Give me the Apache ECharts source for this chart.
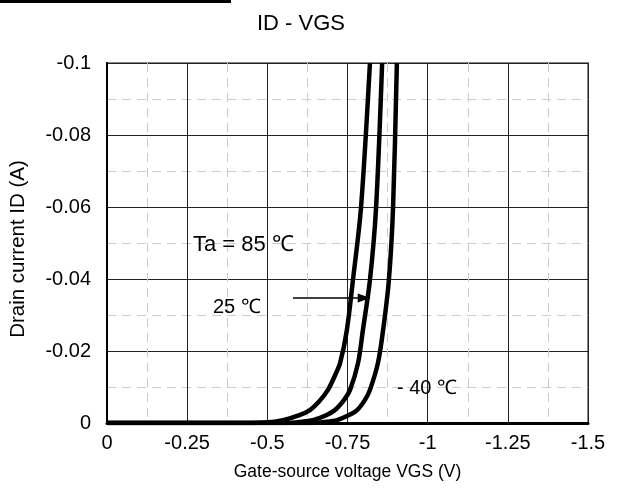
<!DOCTYPE html>
<html>
<head>
<meta charset="utf-8">
<script src="https://cdn.jsdelivr.net/npm/echarts@6/dist/echarts.min.js"></script>
<style>
html, body { margin: 0; padding: 0; background: #fff; }
#chart { width: 617px; height: 503px; }
</style>
</head>
<body>
<div id="chart"></div>
<script>
// curves: [VGS (V), ID (A)]
var curve85 = [[0, 0], [-0.45, 0], [-0.5, -0.0002], [-0.549, -0.0008], [-0.6, -0.0022], [-0.633, -0.0036],
	[-0.66, -0.0058], [-0.689, -0.0092], [-0.71, -0.013], [-0.727, -0.0167], [-0.748, -0.0258],
	[-0.767, -0.0397], [-0.792, -0.0597], [-0.82, -0.1]];
var curve25 = [[0, 0], [-0.56, 0], [-0.6, -0.0003], [-0.642, -0.0008], [-0.68, -0.002], [-0.711, -0.0036],
	[-0.74, -0.0065], [-0.758, -0.0092], [-0.783, -0.0167], [-0.798, -0.0258], [-0.82, -0.0397],
	[-0.839, -0.0597], [-0.858, -0.1]];
var curveM40 = [[0, 0], [-0.64, 0], [-0.68, -0.0003], [-0.717, -0.0008], [-0.75, -0.002], [-0.78, -0.0036],
	[-0.805, -0.0065], [-0.82, -0.0092], [-0.845, -0.0167], [-0.861, -0.0258], [-0.879, -0.0397],
	[-0.892, -0.0597], [-0.904, -0.1]];
var xTicks = [0, -0.25, -0.5, -0.75, -1, -1.25, -1.5];
var yTicks = [0, -0.02, -0.04, -0.06, -0.08, -0.1];
var arrowFrom = [-0.58, -0.0347];
var arrowTo = [-0.802, -0.0347];

var FONT = '"Liberation Sans", Arial, sans-serif';

var chart = echarts.init(document.getElementById('chart'));

function curveSeries(name, data){
	return {
		name: name,
		type: 'line',
		data: data,
		smooth: 0.3,
		showSymbol: false,
		lineStyle: { color: '#000', width: 4.5 },
		z: 5
	};
}

var series = [
	curveSeries('85', curve85),
	curveSeries('25', curve25),
	curveSeries('-40', curveM40)
];
series[1].markLine = {
	silent: true,
	symbol: ['none', 'triangle'],
	symbolSize: [9, 13],
	label: { show: false },
	lineStyle: { color: '#000', width: 1.5, type: 'solid' },
	data: [[{ coord: arrowFrom }, { coord: arrowTo }]]
};

var option = {
	animation: false,
	title: {
		text: 'ID - VGS',
		left: 296,
		top: 8,
		textAlign: 'center',
		textStyle: { fontFamily: FONT, fontSize: 22, fontWeight: 'normal', color: '#000' }
	},
	grid: {
		left: 107, top: 63, right: 29, bottom: 80,
		show: true, borderColor: '#888', borderWidth: 2
	},
	xAxis: {
		type: 'value',
		min: -1.5, max: 0, interval: 0.25,
		inverse: true,
		name: 'Gate-source voltage VGS (V)',
		nameLocation: 'middle',
		nameGap: 40,
		nameTextStyle: { fontFamily: FONT, fontSize: 17.5, color: '#000' },
		axisLine: { show: true, onZero: false, lineStyle: { color: '#000', width: 3 } },
		axisTick: { show: false },
		axisLabel: {
			fontFamily: FONT, fontSize: 20, color: '#000', margin: 10,
			formatter: function(v){ return xTicks.indexOf(v) >= 0 ? String(v) : ''; }
		},
		splitLine: { show: true, lineStyle: { color: '#222', width: 1 } },
		minorTick: { show: false, splitNumber: 2 },
		minorSplitLine: { show: true, lineStyle: { color: '#cccccc', width: 1, type: [9, 6] } }
	},
	yAxis: {
		type: 'value',
		min: -0.1, max: 0, interval: 0.02,
		inverse: true,
		name: 'Drain current ID (A)',
		nameLocation: 'middle',
		nameGap: 78,
		nameTextStyle: { fontFamily: FONT, fontSize: 20.5, color: '#000', padding: [0, 12, 0, 0] },
		axisLine: { show: true, onZero: false, lineStyle: { color: '#000', width: 2 } },
		axisTick: { show: false },
		axisLabel: {
			fontFamily: FONT, fontSize: 20, color: '#000', margin: 16,
			formatter: function(v){ return yTicks.indexOf(+v.toFixed(2)) >= 0 ? String(+v.toFixed(2)) : ''; }
		},
		splitLine: { show: true, lineStyle: { color: '#222', width: 1 } },
		minorTick: { show: false, splitNumber: 2 },
		minorSplitLine: { show: true, lineStyle: { color: '#cccccc', width: 1, type: [9, 6] } }
	},
	graphic: [
		{ type: 'rect', left: 0, top: 0, shape: { width: 231, height: 3 }, style: { fill: '#000' } },
		{ type: 'text', left: 193, top: 234, style: { text: 'Ta = 85 ℃', font: '22px ' + FONT, fill: '#000' }, z: 10 },
		{ type: 'text', left: 213, top: 297, style: { text: '25 ℃', font: '20px ' + FONT, fill: '#000' }, z: 10 },
		{ type: 'text', left: 397, top: 378, style: { text: '- 40 ℃', font: '20px ' + FONT, fill: '#000' }, z: 10 }
	],
	series: series
};
chart.setOption(option);
</script>
</body>
</html>
